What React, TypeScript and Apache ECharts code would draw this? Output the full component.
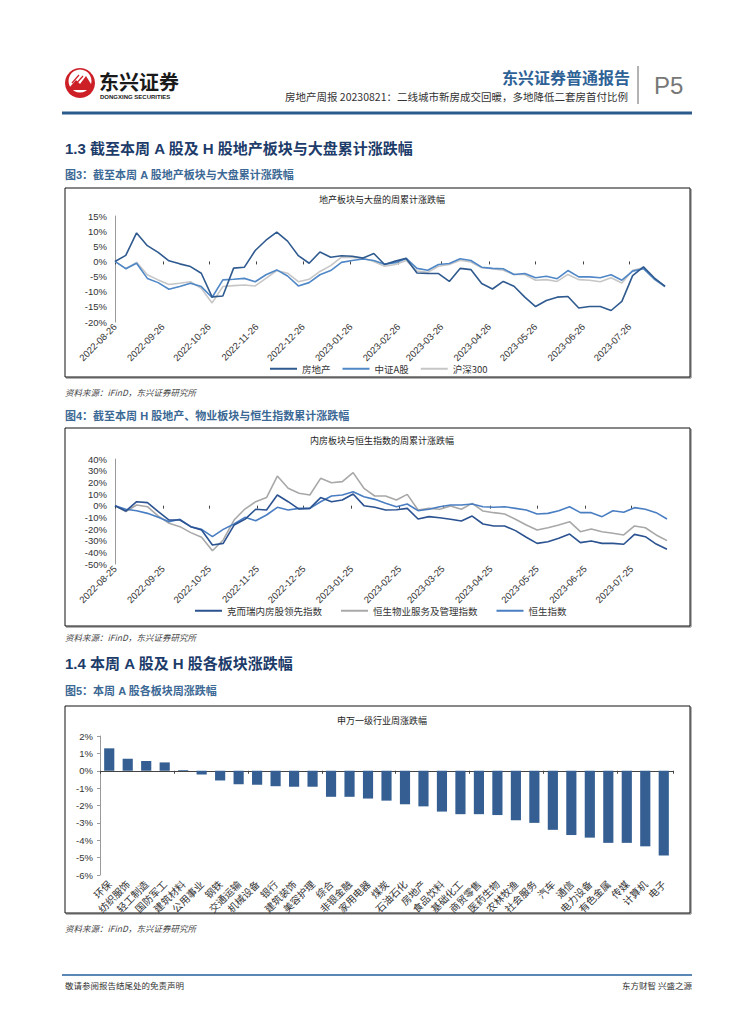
import React, { useEffect, useRef } from "react";
import * as echarts from "echarts";

// ---------- DATA ----------
// Chart 1: weekly cumulative change (%), A-share, starting 2022-08-26
const a1Series = ["房地产", "中证A股", "沪深300"];
const realEstateA = [0, 2.0, 9.4, 5.2, 3.0, 0.2, -0.8, -1.7, -3.9, -11.7, -11.4, -2.2, -1.9, 3.6, 7.0, 9.7, 6.7, 1.9, -0.6, 3.1, 1.4, 1.9, 1.7, 1.1, 2.6, -1.0, 0.1,
  1.0, -3.8, -4.0, -4.0, -6.6, -2.3, -2.7, -7.3, -9.1, -6.6, -8.2, -11.8, -14.9, -12.9, -11.8, -11.6, -15.4, -14.9, -14.9, -16.2, -13.2, -4.7, -1.8, -5.4, -8.2];
const csiAShare = [0, -2.4, -0.6, -5.6, -7, -9.2, -8.3, -7.2, -8.3, -11.9, -6.1, -5.9, -5.6, -6.7, -4.4, -2.8, -4.8, -8.1, -7, -4.4, -3, -0.3, 0.3, 0.8, 0.3, -0.9, -0.4,
  1.0, -2.3, -2.9, -1, -0.7, 0.9, 0.3, -1.9, -2.3, -2.4, -4.3, -4, -5.4, -4.9, -5.7, -3, -5.1, -5.1, -5.4, -4.4, -6.2, -3.2, -2.4, -5.8, -8.2];
const hs300 = [0, -2.4, -0.3, -4.4, -6.1, -7.6, -7.2, -6.7, -8.9, -13.7, -8.3, -8, -7.8, -8.1, -5.6, -3, -3.9, -6.7, -5.9, -3.3, -1.4, 1.4, 1.3, 1.1, 0, -1.6, -1,
  0.3, -3.2, -3.6, -1.6, -1, 0.4, -0.2, -2.1, -2.4, -2.9, -4.3, -4.3, -6.2, -6, -6.6, -4.3, -6, -6.2, -6.7, -5.4, -7.1, -2.9, -2.1, -5.8, -8.4];

// Chart 2: weekly cumulative change (%), HK, starting 2022-08-25
const hkSeries = ["克而瑞内房股领先指数", "恒生物业服务及管理指数", "恒生指数"];
const cricIndex = [0, -4.6, 3.4, 2.6, -5.1, -12.3, -12.3, -18, -20.9, -33.7, -32.3, -16.6, -11.7, -3.1, -3.7, 9.1, 3.4, -2.9, -2.3, 6.9, 3.4, 4.9, 10, 0, -1.4, -3.7, -3.5,
  -2.3, -11.4, -9.4, -10.3, -11.7, -13.1, -8.9, -15.7, -17.4, -17.4, -21.4, -27.1, -32.3, -30.9, -28, -24.3, -31.7, -30.3, -32.3, -32.3, -33.1, -24.6, -26.6, -32.9, -37.4];
const hsPropMgmt = [0, -5.1, 0.6, -0.9, -8.9, -15.1, -18, -23.1, -27.1, -38.6, -29.4, -12.3, -2.9, 3.4, 6.9, 25.4, 14.9, 10.6, 9.1, 23.4, 19.7, 20.6, 28.3, 14.9, 8.3, 8.3, 4.9,
  9.7, -3.7, -2.3, -3.1, -0.3, -3.1, 2, -4.6, -6, -7.1, -11.7, -16.6, -20.9, -18.9, -16.6, -13.7, -22.3, -20, -22.3, -23.7, -25.1, -17.4, -18.9, -25.1, -30];
const hsIndex = [0, -3.1, -4.3, -6.6, -10, -13.7, -11.7, -18, -20.3, -26.6, -20.3, -15.7, -10, -12.9, -8, -1.4, -3.7, -2.3, -2.3, 3.4, 8.3, 9.1, 12, 7.7, 5.4, 2, -0.9,
  1.4, -4.3, -3.1, -0.9, 0.6, 0.6, 1.4, -0.9, -1.4, -0.9, -2.3, -3.7, -7.1, -6.6, -4.3, -0.9, -6, -6, -9.4, -4.3, -5.7, -1.7, -3.1, -6, -11.4];

// Chart 3: Shenwan level-1 industries weekly change (%)
const industries = ["环保", "纺织服饰", "轻工制造", "国防军工", "建筑材料", "公用事业", "钢铁", "交通运输", "机械设备", "银行", "建筑装饰", "美容护理", "综合", "非银金融", "家用电器", "煤炭",
  "石油石化", "房地产", "食品饮料", "基础化工", "商贸零售", "医药生物", "农林牧渔", "社会服务", "汽车", "通信", "电力设备", "有色金属", "传媒", "计算机", "电子"];
const industryChange = [1.29, 0.69, 0.56, 0.48, 0.05, -0.21, -0.56, -0.77, -0.81, -0.89, -0.92, -0.92, -1.5, -1.5, -1.6, -1.72,
  -1.93, -2.05, -2.35, -2.5, -2.5, -2.55, -2.85, -3.0, -3.4, -3.7, -3.85, -4.15, -4.15, -4.35, -4.88];

// ---------- HELPERS ----------
const DAY = 86400000;
function monthTicks(start: Date, day: number, count: number) {
  const vals: number[] = [];
  const map: Record<number, string> = {};
  for (let k = 0; k < count; k++) {
    const d = new Date(start.getFullYear(), start.getMonth() + k, day);
    const off = Math.round((d.getTime() - start.getTime()) / DAY);
    vals.push(off);
    map[off] = `${d.getFullYear()}-${String(d.getMonth() + 1).padStart(2, "0")}-${String(d.getDate()).padStart(2, "0")}`;
  }
  return { vals, map };
}
const weekly = (arr: number[]) => arr.map((v, i) => [i * 7, v]);

const FONT = '"Liberation Sans", "Noto Sans CJK SC", sans-serif';
const CJK = '"Noto Sans CJK SC", "Liberation Sans", sans-serif';

function txt(text: string, x: number, y: number, font: string, fill: string, align = "left") {
  return {
    type: "text",
    x,
    y,
    silent: true,
    style: { text, font, fill, align, verticalAlign: "middle", textAlign: align, textVerticalAlign: "middle" },
  };
}
function ln(x1: number, y1: number, x2: number, y2: number, stroke: string, lineWidth: number) {
  return { type: "line", silent: true, shape: { x1, y1, x2, y2 }, style: { stroke, lineWidth } };
}
function box(x: number, y: number, w: number, h: number) {
  return [
    ln(x + w + 1, y + 1, x + w + 1, y + h + 1, "#9a9a9a", 1.5),
    ln(x + 1, y + h + 1, x + w + 1, y + h + 1, "#9a9a9a", 1.5),
    { type: "rect", silent: true, shape: { x, y, width: w, height: h }, style: { fill: "none", stroke: "#111", lineWidth: 1 } },
  ];
}

export default function App() {
  const ref = useRef<HTMLDivElement>(null);

  useEffect(() => {
    if (!ref.current) return;
    const chart = echarts.init(ref.current, null, { renderer: "svg" });

    const start1 = new Date(2022, 7, 26);
    const start2 = new Date(2022, 7, 25);
    const t1 = monthTicks(start1, 26, 12);
    const t2 = monthTicks(start2, 25, 12);
    const span = 51 * 7;

    const yAxisLine = {
      axisLine: { show: true, lineStyle: { color: "#9a9a9a", width: 1 } },
      axisTick: { show: false },
      splitLine: { show: false },
    };

    const timeLabelAxis = (grid: number, t: any) => ({
      type: "value",
      gridIndex: grid,
      min: 0,
      max: span,
      position: "bottom",
      axisLine: { show: false, onZero: false },
      axisTick: { show: false },
      splitLine: { show: false },
      axisLabel: {
        customValues: t.vals,
        formatter: (v: number) => t.map[Math.round(v)] || "",
        rotate: 45,
        fontSize: 9.5,
        color: "#333",
        margin: 3,
        fontFamily: FONT,
      },
    });
    const timeZeroAxis = (grid: number, t: any) => ({
      type: "value",
      gridIndex: grid,
      min: 0,
      max: span,
      position: "bottom",
      axisLine: { show: true, onZero: true, lineStyle: { color: "rgba(0,0,0,0)" } },
      axisTick: { show: true, customValues: t.vals, length: 3, lineStyle: { color: "#444" } },
      axisLabel: { show: false },
      splitLine: { show: false },
    });

    const line = (name: string, data: number[], color: string, xi: number, yi: number) => ({
      name,
      type: "line",
      xAxisIndex: xi,
      yAxisIndex: yi,
      data: weekly(data),
      symbol: "none",
      lineStyle: { color, width: 1.6 },
      itemStyle: { color },
    });

    const graphic: any[] = [
      // logo
      { type: "circle", silent: true, shape: { cx: 80, cy: 83, r: 15 }, style: { fill: "#cc1f26" } },
      { type: "circle", silent: true, shape: { cx: 80, cy: 81, r: 11.5 }, style: { fill: "#fff" } },
      { type: "polygon", silent: true, shape: { points: [[69, 88], [76, 80], [80, 84], [86, 76], [91, 84], [91, 90], [69, 90]] }, style: { fill: "#cc1f26" } },
      ln(72, 83, 79, 75, "#cc1f26", 1.2),
      ln(75, 85, 83, 76, "#cc1f26", 1.2),
      txt("东兴证券", 99, 81, `bold 20px ${CJK}`, "#1a1a1a"),
      txt("DONGXING SECURITIES", 100, 97, `bold 6px ${FONT}`, "#1a1a1a"),
      txt("东兴证券普通报告", 630, 77, `bold 16px ${CJK}`, "#2e6296", "right"),
      txt("房地产周报 20230821：二线城市新房成交回暖，多地降低二套房首付比例", 628, 96, `10.5px ${CJK}`, "#333", "right"),
      ln(638, 66, 638, 104, "#9a9a9a", 1.5),
      txt("P5", 654, 85, `24px ${FONT}`, "#777"),
      ln(62, 113, 692, 113, "#2b5b8c", 3),

      txt("1.3 截至本周 A 股及 H 股地产板块与大盘累计涨跌幅", 65, 148, `bold 15px ${FONT}`, "#1d3c6a"),
      txt("图3：截至本周 A 股地产板块与大盘累计涨跌幅", 65, 175, `bold 11px ${FONT}`, "#3b6894"),
      ...box(65, 188, 625, 189),
      txt("地产板块与大盘的周累计涨跌幅", 382, 199, `9px ${CJK}`, "#222", "center"),
      txt("资料来源：iFinD，东兴证券研究所", 65, 392, `italic 8.5px ${CJK}`, "#444"),

      txt("图4：截至本周 H 股地产、物业板块与恒生指数累计涨跌幅", 65, 416, `bold 11px ${FONT}`, "#3b6894"),
      ...box(65, 428, 625, 198),
      txt("内房板块与恒生指数的周累计涨跌幅", 382, 440, `9px ${CJK}`, "#222", "center"),
      txt("资料来源：iFinD，东兴证券研究所", 65, 637, `italic 8.5px ${CJK}`, "#444"),

      txt("1.4 本周 A 股及 H 股各板块涨跌幅", 65, 663, `bold 15px ${FONT}`, "#1d3c6a"),
      txt("图5：本周 A 股各板块周涨跌幅", 65, 691, `bold 11px ${FONT}`, "#3b6894"),
      ...box(65, 706, 625, 207),
      txt("申万一级行业周涨跌幅", 382, 720, `9px ${CJK}`, "#222", "center"),
      txt("资料来源：iFinD，东兴证券研究所", 65, 928, `italic 8.5px ${CJK}`, "#444"),

      ln(62, 975, 692, 975, "#5a87b5", 2),
      txt("敬请参阅报告结尾处的免责声明", 65, 985, `8.5px ${CJK}`, "#333"),
      txt("东方财智 兴盛之源", 692, 985, `8.5px ${CJK}`, "#333", "right"),
    ];

    const option: any = {
      animation: false,
      backgroundColor: "#fff",
      textStyle: { fontFamily: FONT },
      grid: [
        { left: 115, top: 216, width: 550, height: 106 },
        { left: 115, top: 459, width: 552, height: 105 },
        { left: 100, top: 736, width: 573, height: 139 },
      ],
      xAxis: [
        timeLabelAxis(0, t1),
        timeZeroAxis(0, t1),
        timeLabelAxis(1, t2),
        timeZeroAxis(1, t2),
        {
          type: "category",
          gridIndex: 2,
          data: industries,
          position: "bottom",
          axisLine: { show: false, onZero: false },
          axisTick: { show: false },
          axisLabel: { interval: 0, rotate: 45, fontSize: 10, color: "#333", margin: 7, fontFamily: CJK },
        },
        {
          type: "category",
          gridIndex: 2,
          data: industries,
          position: "bottom",
          axisLine: { show: true, onZero: true, lineStyle: { color: "#444", width: 1 } },
          axisTick: { show: true, length: 3, lineStyle: { color: "#444" } },
          axisLabel: { show: false },
        },
      ],
      yAxis: [
        { type: "value", gridIndex: 0, min: -20, max: 15, interval: 5, ...yAxisLine, axisLabel: { formatter: "{value}%", fontSize: 9.5, color: "#333", margin: 8 } },
        { type: "value", gridIndex: 1, min: -50, max: 40, interval: 10, ...yAxisLine, axisLabel: { formatter: "{value}%", fontSize: 9.5, color: "#333", margin: 8 } },
        {
          type: "value",
          gridIndex: 2,
          min: -6,
          max: 2,
          interval: 1,
          axisLine: { show: true, lineStyle: { color: "#9a9a9a" } },
          axisTick: { show: true, length: 3, lineStyle: { color: "#9a9a9a" } },
          splitLine: { show: false },
          axisLabel: { formatter: "{value}%", fontSize: 9.5, color: "#333", margin: 7 },
        },
      ],
      legend: [
        {
          left: 270,
          top: 364,
          padding: 0,
          data: a1Series,
          icon: "rect",
          itemWidth: 27,
          itemHeight: 2,
          itemGap: 12,
          textStyle: { fontSize: 9.5, color: "#333", fontFamily: CJK },
        },
        {
          left: 195,
          top: 606,
          padding: 0,
          data: hkSeries,
          icon: "rect",
          itemWidth: 27,
          itemHeight: 2,
          itemGap: 19,
          textStyle: { fontSize: 9.5, color: "#333", fontFamily: CJK },
        },
      ],
      series: [
        line("沪深300", hs300, "#c6c6c6", 0, 0),
        line("中证A股", csiAShare, "#4f87c7", 0, 0),
        line("房地产", realEstateA, "#2f5a8f", 0, 0),
        line("恒生物业服务及管理指数", hsPropMgmt, "#a8a8a8", 2, 1),
        line("恒生指数", hsIndex, "#4a7ec2", 2, 1),
        line("克而瑞内房股领先指数", cricIndex, "#2b5291", 2, 1),
        {
          name: "周涨跌幅",
          type: "bar",
          xAxisIndex: 4,
          yAxisIndex: 2,
          data: industryChange,
          barWidth: "55%",
          itemStyle: { color: "#355f92" },
        },
      ],
      graphic,
    };

    chart.setOption(option);
    return () => chart.dispose();
  }, []);

  return (
    <div
      ref={ref}
      style={{ position: "absolute", left: 0, top: 0, width: 755, height: 1024, background: "#fff" }}
    />
  );
}
